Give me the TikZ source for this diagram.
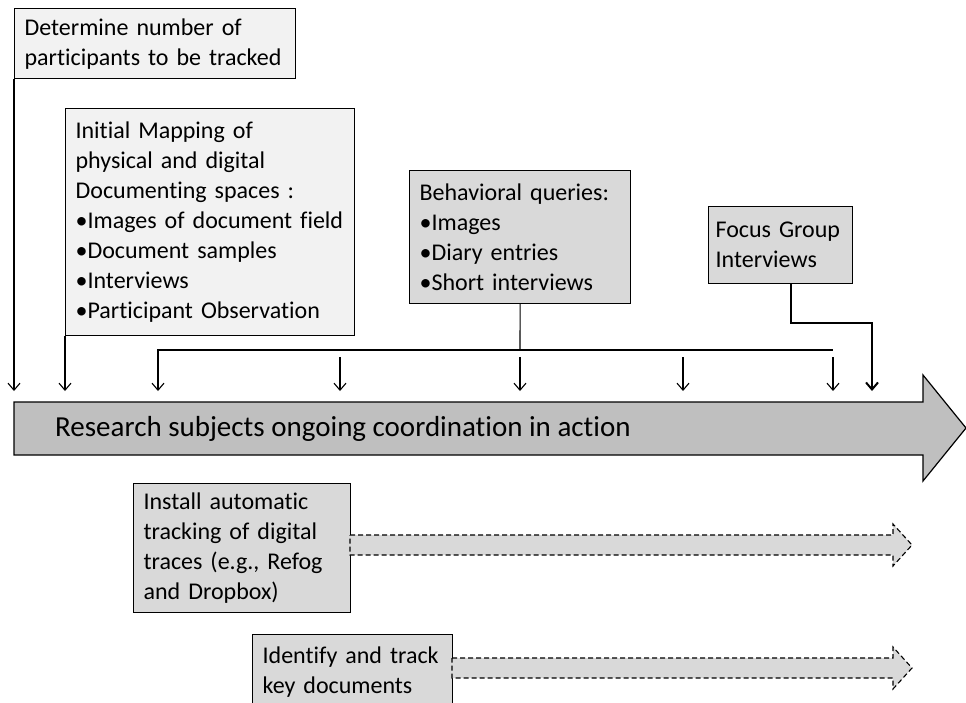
\documentclass[tikz,border=0pt]{standalone}
\usepackage{fontspec}
\setmainfont{Carlito}[Ligatures=NoCommon]
\usepackage{tikz}
\usetikzlibrary{arrows.meta,positioning}
\definecolor{paleGrey}{HTML}{F2F2F2}
\definecolor{midGrey}{HTML}{D9D9D9}
\definecolor{flowGrey}{HTML}{BFBFBF}
\tikzstyle{paleBox}=[draw, fill=paleGrey, line width=1.2pt, anchor=north west, align=left, inner xsep=10pt, inner ysep=0pt, font=\fontsize{24}{30}\selectfont]
\tikzstyle{greyBox}=[paleBox, fill=midGrey]
\tikzstyle{edge}=[->, >={Straight Barb[length=7pt,width=12pt]}, line width=1.1pt]
\tikzstyle{edgeThick}=[edge, line width=2pt]
\tikzstyle{plain}=[line width=1.1pt]
\tikzstyle{trackArrow}=[draw, fill=midGrey, line width=1.1pt, dash pattern=on 5pt off 3pt]

\begin{document}
\begin{tikzpicture}[x=1pt, y=-1pt]
      \useasboundingbox (0,0) rectangle (966,702);
      % main time line
      \draw[fill=flowGrey, line width=1.2pt] (14,402) -- (923,402) -- (923,375) -- (966,428) -- (923,481) -- (923,455) -- (14,455) -- cycle;
      \node(flow) [anchor=west, inner sep=0pt, font=\fontsize{29}{34}\selectfont] at (55,429){Research subjects ongoing coordination in action};
      % boxes
      \node(detBox) [paleBox, text width=261pt, minimum height=70pt] at (14,8){Determine number of\\participants to be tracked};
      \node(mapBox) [paleBox, text width=269pt, minimum height=227pt] at (65,108){Initial Mapping of\\physical and digital\\Documenting spaces :\\•Images of document field\\•Document samples\\•Interviews\\•Participant Observation};
      \node(queryBox) [greyBox, text width=201pt, minimum height=133pt] at (409,170){Behavioral queries:\\•Images\\•Diary entries\\•Short interviews};
      \node(focusBox) [greyBox, inner xsep=7pt, text width=130pt, minimum height=77pt] at (708,206){Focus Group\\Interviews};
      \node(installBox) [greyBox, text width=197pt, minimum height=129pt] at (133,483){Install automatic\\tracking of digital\\traces (e.g., Refog\\and Dropbox)};
      \node(keyBox) [greyBox, text width=180pt, minimum height=74pt] at (252,634){Identify and track\\key documents};
      % connector points
      \coordinate(t1) at (14,391);
      \coordinate(t2) at (65,391);
      \coordinate(t3) at (158,391);
      \coordinate(t4) at (340,391);
      \coordinate(t5) at (520,391);
      \coordinate(t6) at (683,391);
      \coordinate(t7) at (833,391);
      \coordinate(t8) at (872,391);
      \coordinate(s4) at (340,357);
      \coordinate(s5) at (520,357);
      \coordinate(s6) at (683,357);
      \coordinate(s7) at (833,357);
      \coordinate(hubL) at (158,350);
      \coordinate(hubM) at (520,350);
      \coordinate(hubR) at (833,350);
      \coordinate(bend) at (872,323);
      \draw[edge] (detBox.south west) to (t1);
      \draw[edge] (mapBox.south west) to (t2);
      \draw[plain] (queryBox.south) to (hubM);
      \draw[plain] (hubM) to (hubR);
      \draw[edge] (hubM) -- (hubL) -- (t3);
      \draw[edge] (s4) to (t4);
      \draw[edge] (s5) to (t5);
      \draw[edge] (s6) to (t6);
      \draw[edge] (s7) to (t7);
      \draw[edgeThick] ([xshift=10pt]focusBox.south) |- (bend) -- (t8);
      % tracking arrows
      \draw[trackArrow] (350,535) -- (893,535) -- (893,524) -- (912,545) -- (893,566) -- (893,555) -- (350,555) -- cycle;
      \draw[trackArrow] (452,658) -- (893,658) -- (893,647) -- (912,668) -- (893,689) -- (893,678) -- (452,678) -- cycle;
    \end{tikzpicture}
\end{document}
